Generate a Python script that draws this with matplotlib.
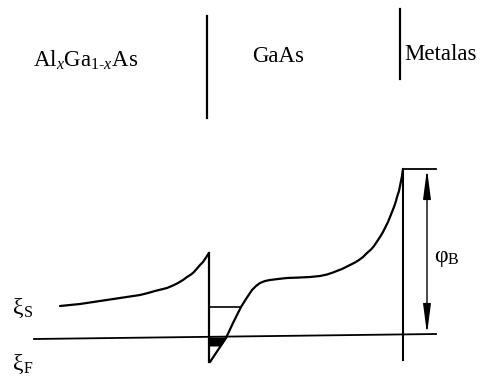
import numpy as np
import matplotlib
matplotlib.use("Agg")
import matplotlib.pyplot as plt
from matplotlib.patches import FancyArrowPatch

plt.rcParams['font.family'] = ['Liberation Serif', 'DejaVu Serif']
plt.rcParams['mathtext.fontset'] = 'custom'
plt.rcParams['mathtext.rm'] = 'Liberation Serif'
plt.rcParams['mathtext.it'] = 'Liberation Serif:italic'

# band edge in AlGaAs (x, y in drawing units, y grows downward)
alga_x = [60, 70, 80, 90, 100, 110, 120, 130, 140, 148, 155, 161, 167, 173,
          178, 183, 187, 191, 194, 197, 200, 203, 205, 207, 209]
alga_y = [306, 305, 304, 302.5, 301, 299.5, 298, 296.5, 295, 293, 291, 289.5,
          288, 285.5, 283, 280, 277, 274.5, 272, 268.5, 265, 262, 259, 256, 253]

# band edge in GaAs, from bottom of the well up to the metal contact
gaas_x = [210, 218, 226, 233, 241, 246, 252, 256, 260, 265, 270, 278, 287,
          300, 310, 320, 327, 333, 338, 342, 346, 350, 355, 359, 363, 367,
          371, 374, 377, 380, 383, 385, 388, 390, 392, 394, 396, 397, 399,
          400, 401, 402, 403]
gaas_y = [362, 350, 338, 323, 307, 299, 290, 286, 283, 281, 280, 279, 278,
          277.5, 277, 276, 274.5, 272.5, 270.5, 269, 267, 265, 262.5, 260, 257, 253,
          249.5, 246, 241.5, 237, 232, 228, 222, 217, 212, 207, 201, 197, 191,
          186, 181, 176, 169]

# Fermi level
fermi_x = [34, 436]
fermi_y = [339, 334]

# subband level in the well
sub_x = [210, 241]
sub_y = [307, 307]

# interfaces
iface_x = [209, 403]
divider_x = [207, 400]
divider_top = [16, 9]
divider_bot = [118, 79]

# barrier height marker
phi_x = 427
phi_top, phi_bot = 169, 334

fig = plt.figure(figsize=(4.92, 3.76), dpi=100)
ax = fig.add_axes([0, 0, 1, 1])
ax.set_xlim(0, 492)
ax.set_ylim(376, 0)
ax.axis('off')

lw = 1.6
ax.plot(alga_x, alga_y, color='black', lw=lw, solid_capstyle='round')
ax.plot(gaas_x, gaas_y, color='black', lw=lw, solid_capstyle='round')
ax.plot([iface_x[0], iface_x[0]], [alga_y[-1], gaas_y[0]], color='black', lw=lw)
ax.plot(fermi_x, fermi_y, color='black', lw=1.3)
ax.plot(sub_x, sub_y, color='black', lw=1.2)

# filled part of the well below the Fermi level
fy = np.linspace(337, 346, 20)
right = np.interp(fy, gaas_y[:4][::-1], gaas_x[:4][::-1])
ax.fill_betweenx(fy, iface_x[0], right, color='black', lw=0)

# metal contact
ax.plot([iface_x[1], iface_x[1]], [gaas_y[-1], 360], color='black', lw=1.5)
ax.plot([iface_x[1], 436], [phi_top, phi_top], color='black', lw=1.3)
ax.add_patch(FancyArrowPatch((phi_x, phi_top), (phi_x, phi_bot),
                             arrowstyle='<|-|>,head_length=1.0,head_width=0.13',
                             mutation_scale=18, color='black', lw=1.0,
                             shrinkA=0, shrinkB=0))

# region dividers
for xi, t, b in zip(divider_x, divider_top, divider_bot):
    ax.plot([xi, xi], [t, b], color='black', lw=1.6)

ax.text(33, 67, r'Al$_{x}$Ga$_{\mathit{1}\text{-}x}$As', fontsize=16.5, va='baseline')
ax.text(252, 62, 'GaAs', fontsize=16.5, va='baseline')
ax.text(404, 60, 'Metalas', fontsize=16.5, va='baseline')

ax.text(13, 314, 'ξ', fontsize=17, va='baseline')
ax.text(23.5, 317, 'S', fontsize=11.5, va='baseline')
ax.text(13, 370, 'ξ', fontsize=17, va='baseline')
ax.text(23.5, 373, 'F', fontsize=11.5, va='baseline')
ax.text(434, 262, 'φ', fontsize=17, va='baseline')
ax.text(447.5, 264, 'B', fontsize=11.5, va='baseline')

fig.savefig('out.png', dpi=100)
